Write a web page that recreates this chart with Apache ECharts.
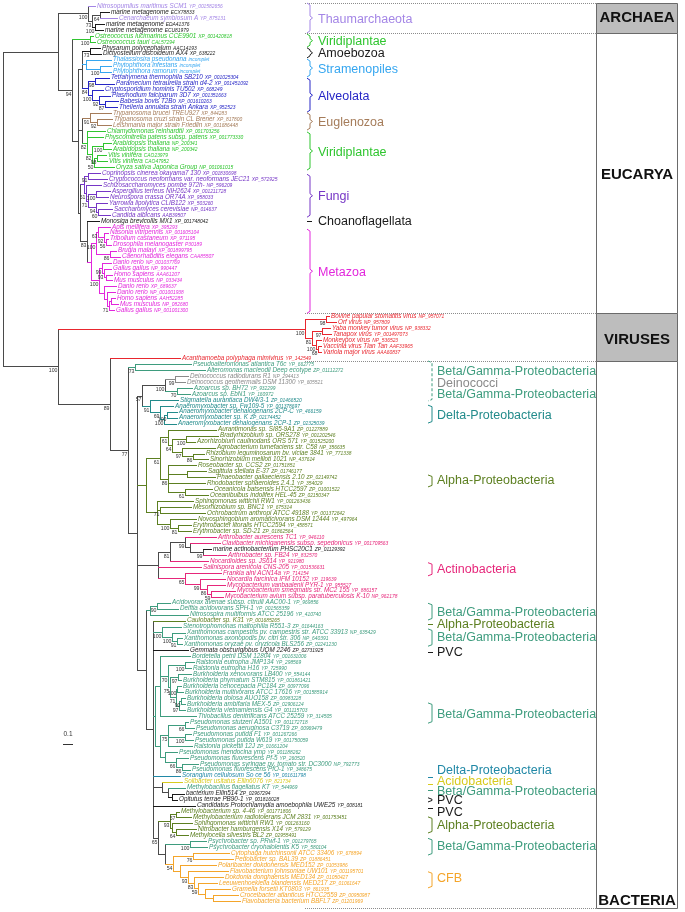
<!DOCTYPE html>
<html><head><meta charset="utf-8">
<script src="https://cdn.jsdelivr.net/npm/echarts@6/dist/echarts.min.js"></script>
<style>html,body{margin:0;padding:0;background:#fff}#c{width:685px;height:912px}</style>
</head><body><div id="c"></div>
<script>
// ---------------- DATA ----------------
const leafNames = [
'Nitrosopumilus maritimus SCM1','marine metagenome','Cenarchaeum symbiosum A','marine metagenome','marine metagenome',
'Ostreococcus lucimarinus CCE9901','Ostreococcus tauri',
'Physarum polycephalum','Dictyostelium discoideum AX4',
'Thalassiosira pseudonana','Phytophthora infestans','Phytophthora ramorum',
'Tetrahymena thermophila SB210','Paramecium tetraurelia strain d4-2','Cryptosporidium hominis TU502','Plasmodium falciparum 3D7','Babesia bovis T2Bo','Theileria annulata strain Ankara',
'Trypanosoma brucei TREU927','Trypanosoma cruzi strain CL Brener','Leishmania major strain Friedlin',
'Chlamydomonas reinhardtii','Physcomitrella patens subsp. patens','Arabidopsis thaliana','Arabidopsis thaliana','Vitis vinifera','Vitis vinifera','Oryza sativa Japonica Group',
'Coprinopsis cinerea okayama7 130','Cryptococcus neoformans var. neoformans JEC21','Schizosaccharomyces pombe 972h-','Aspergillus terreus NIH2624','Neurospora crassa OR74A','Yarrowia lipolytica CLIB122','Saccharomyces cerevisiae','Candida albicans',
'Monosiga brevicollis MX1',
'Apis mellifera','Nasonia vitripennis','Tribolium castaneum','Drosophila melanogaster','Brugia malayi','Caenorhabditis elegans','Danio rerio','Gallus gallus','Homo sapiens','Mus musculus','Danio rerio','Danio rerio','Homo sapiens','Mus musculus','Gallus gallus',
'Bovine papular stomatitis virus','Orf virus','Yaba monkey tumor virus','Tanapox virus','Monkeypox virus','Vaccinia virus Tian Tan','Variola major virus','Acanthamoeba polyphaga mimivirus',
'Pseudoalteromonas atlantica T6c','Alteromonas macleodii Deep ecotype','Deinococcus radiodurans R1','Deinococcus geothermalis DSM 11300','Azoarcus sp. BH72','Azoarcus sp. EbN1',
'Stigmatella aurantiaca DW4/3-1','Anaeromyxobacter sp. Fw109-5','Anaeromyxobacter dehalogenans 2CP-C','Anaeromyxobacter sp. K','Anaeromyxobacter dehalogenans 2CP-1',
'Aurantimonas sp. SI85-9A1','Bradyrhizobium sp. ORS278','Azorhizobium caulinodans ORS 571','Agrobacterium tumefaciens str. C58','Rhizobium leguminosarum bv. viciae 3841','Sinorhizobium meliloti 1021','Roseobacter sp. CCS2','Sagittula stellata E-37','Phaeobacter gallaeciensis 2.10','Rhodobacter sphaeroides 2.4.1','Oceanicola batsensis HTCC2597','Oceanibulbus indolifex HEL-45','Sphingomonas wittichii RW1','Mesorhizobium sp. BNC1','Ochrobactrum anthropi ATCC 49188','Novosphingobium aromaticivorans DSM 12444','Erythrobacter litoralis HTCC2594','Erythrobacter sp. SD-21',
'Arthrobacter aurescens TC1','Clavibacter michiganensis subsp. sepedonicus','marine actinobacterium PHSC20C1','Arthrobacter sp. FB24','Nocardioides sp. JS614','Salinispora arenicola CNS-205','Frankia alni ACN14a','Nocardia farcinica IFM 10152','Mycobacterium vanbaalenii PYR-1','Mycobacterium smegmatis str. MC2 155','Mycobacterium avium subsp. paratuberculosis K-10',
'Acidovorax avenae subsp. citrulli AAC00-1','Delftia acidovorans SPH-1','Nitrosospira multiformis ATCC 25196','Caulobacter sp. K31','Stenotrophomonas maltophilia R551-3','Xanthomonas campestris pv. campestris str. ATCC 33913','Xanthomonas axonopodis pv. citri str. 306','Xanthomonas oryzae pv. oryzicola BLS256','Gemmata obscuriglobus UQM 2246',
'Bordetella petrii DSM 12804','Ralstonia eutropha JMP134','Ralstonia eutropha H16','Burkholderia xenovorans LB400','Burkholderia phymatum STM815','Burkholderia cenocepacia PC184','Burkholderia multivorans ATCC 17616','Burkholderia dolosa AUO158','Burkholderia ambifaria MEX-5','Burkholderia vietnamiensis G4','Thiobacillus denitrificans ATCC 25259',
'Pseudomonas stutzeri A1501','Pseudomonas aeruginosa C3719','Pseudomonas putida F1','Pseudomonas putida W619','Ralstonia pickettii 12J','Pseudomonas mendocina ymp','Pseudomonas fluorescens Pf-5','Pseudomonas syringae pv. tomato str. DC3000','Pseudomonas fluorescens PfO-1',
'Sorangium cellulosum So ce 56','Solibacter usitatus Ellin6076','Methylobacillus flagellatus KT','bacterium Ellin514','Opitutus terrae PB90-1','Candidatus Protochlamydia amoebophila UWE25',
'Methylobacterium sp. 4-46','Methylobacterium radiotolerans JCM 2831','Sphingomonas wittichii RW1','Nitrobacter hamburgensis X14','Methylocella silvestris BL2',
'Psychrobacter sp. PRwf-1','Psychrobacter cryohalolentis K5',
'Cytophaga hutchinsonii ATCC 33406','Pedobacter sp. BAL39','Polaribacter dokdonensis MED152','Flavobacterium johnsoniae UW101','Dokdonia donghaensis MED134','Leeuwenhoekiella blandensis MED217','Gramella forsetii KT0803','Croceibacter atlanticus HTCC2559','Flavobacteria bacterium BBFL7'
];
const leafAcc = [
'YP_001582656','ECX78833','YP_875131','EDA41376','ECU81979',
'XP_001420818','CAL57294',
'AAC14193','XP_638222',
'incomplet','incomplet','incomplet',
'XP_001025304','XP_001451092','XP_668249','XP_001351663','XP_001610263','XP_952523',
'XP_844283','XP_817800','XP_001686448',
'XP_001703256','XP_001773330','NP_200341','NP_200342','CAO23979','CAO47952','NP_001061015',
'XP_001830698','XP_572925','NP_596209','XP_001211728','XP_958033','XP_503260','NP_014637','AAB39507',
'XP_001748042',
'XP_395293','XP_001605104','XP_971195','P30189','XP_001899795','CAA85507','NP_001037769','NP_990447','AAA61207','NP_033434','XP_689637','NP_001001938','AAH52285','NP_082680','NP_001001300',
'NP_957071','NP_957809','NP_938332','YP_001497073','NP_536523','AAF33965','AAA60837','YP_142549',
'YP_662775','ZP_01112272','NP_294413','YP_605521','YP_932299','YP_160972',
'ZP_01466520','YP_001378697','YP_466159','ZP_02174452','ZP_02325039',
'ZP_01227889','YP_001202546','YP_001525200','NP_356635','YP_771338','NP_437614','ZP_01751851','ZP_01746177','ZP_02149742','YP_354029','ZP_01001522','ZP_02150347','YP_001263436','YP_675314','YP_001372642','YP_497964','YP_458571','ZP_01862564',
'YP_946110','YP_001709563','ZP_01129392','YP_832570','YP_921980','YP_001536631','YP_714154','YP_119639','YP_955527','YP_886157','NP_962178',
'YP_969856','YP_001565359','YP_410740','YP_001685265','ZP_01644163','NP_635429','NP_640391','ZP_02241230','ZP_02731925',
'YP_001631006','YP_298569','YP_725990','YP_554144','YP_001861421','ZP_00977096','YP_001585914','ZP_00983228','ZP_02906124','YP_001115703','YP_314505',
'YP_001172718','ZP_00969479','YP_001267266','YP_001750059','ZP_01661204','YP_001188262','YP_260520','NP_792773','YP_348675',
'YP_001611798','YP_821734','YP_544969','ZP_02967294','YP_001816028','YP_008181',
'YP_001771806','YP_001753451','YP_001263160','YP_579129','ZP_02955491',
'YP_001279765','YP_580104',
'YP_678894','ZP_01886451','ZP_01053986','YP_001195701','ZP_01050427','ZP_01061647','YP_861935','ZP_00950987','ZP_01201969'
];
const leafGroup = [
'thaum','black','thaum','black','black',
'plant','plant',
'black','black',
'stram','stram','stram',
'alv','alv','alv','alv','alv','alv',
'eugl','eugl','eugl',
'plant','plant','plant','plant','plant','plant','plant',
'fungi','fungi','fungi','fungi','fungi','fungi','fungi','fungi',
'black',
'meta','meta','meta','meta','meta','meta','meta','meta','meta','meta','meta','meta','meta','meta','meta',
'virus','virus','virus','virus','virus','virus','virus','virus',
'bg','bg','deino','deino','bg','bg',
'delta','delta','delta','delta','delta',
'alpha','alpha','alpha','alpha','alpha','alpha','alpha','alpha','alpha','alpha','alpha','alpha','alpha','alpha','alpha','alpha','alpha','alpha',
'actino','actino','black','actino','actino','actino','actino','actino','actino','actino','actino',
'bg','bg','bg','alpha','bg','bg','bg','bg','black',
'bg','bg','bg','bg','bg','bg','bg','bg','bg','bg','bg',
'bg','bg','bg','bg','bg','bg','bg','bg','bg',
'delta2','acido','bg','black','black','black',
'alpha','alpha','alpha','alpha','alpha',
'bg','bg',
'cfb','cfb','cfb','cfb','cfb','cfb','cfb','cfb','cfb'
];

// Tree (Newick, leaves = index into the arrays above, branch lengths, bootstrap support)
const nwArchaea = "(0:0.07,((1:0.09,2:0.17)64:0.08,(3:0.09,4:0.08)100:0.03)73:0.04)100:0.30";
const nwEukG1 = "((7:0.10,8:0.11)73:0.08,(9:0.25,(10:0.11,11:0.11)100:0.14):0.04,((12:0.14,13:0.19)98:0.07,(14:0.11,(15:0.11,(16:0.13,17:0.12)87:0.06)92:0.07)100:0.04)84:0.06):0.04";
const nwEukG2 = "((18:0.21,(19:0.15,20:0.14)92:0.07)91:0.08,(21:0.18,22:0.16,((23:0.08,24:0.08)100:0.11,((25:0.09,26:0.10)98:0.03,27:0.20)50:0.02)82:0.05)82:0.05):0.04";
const nwMetazoa = "(((37:0.12,(38:0.04,(39:0.02,40:0.05)56:0.02)92:0.06)63:0.02,(41:0.06,42:0.10)86:0.14)100:0.05,((43:0.09,(44:0.07,(45:0.06,46:0.06):0.02)93:0.02)99:0.03,(47:0.12,(48:0.08,((49:0.04,50:0.07):0.02,51:0.05)71:0.02):0.03):0.05)100:0.08):0.04";
const nwOpis = "(((28:0.12,29:0.19)91:0.04,(30:0.15,((31:0.14,32:0.12)100:0.08,(33:0.11,(34:0.14,35:0.12)60:0.02)94:0.08)71:0.02)51:0.02):0.04,(36:0.12," + nwMetazoa + ")83:0.07):0.02";
const nwEukarya = "((5:0.03,6:0.05)100:0.18,(" + nwEukG1 + "," + nwEukG2 + "," + nwOpis + "):0.06)94:0.14";
const nwViruses = "((52:0.03,53:0.10)98:0.21,((54:0.08,55:0.09)97:0.10,(56:0.05,(57:0.03,58:0.03)68:0.02)100:0.04)81:0.07)100:2.47";
const nwDelta = "(((62:0.13,63:0.10)99:0.10,(64:0.15,65:0.13)70:0.12)100:0.23,(66:0.28,(67:0.13,((68:0.10,69:0.10)100:0.03,70:0.12)100:0.04)69:0.10)91:0.08)57:0.05";
const nwAlpha = "(((71:0.48,((72:0.32,73:0.09)100:0.14,(74:0.33,(75:0.11,76:0.15)86:0.11)97:0.10)64:0.04)61:0.08,(77:0.28,(78:0.19,79:0.28):0.19,80:0.37,(81:0.27,82:0.23)61:0.17)86:0.08)61:0.14,(83:0.36,(84:0.31,85:0.45)71:0.03,(86:0.26,(87:0.13,88:0.13)81:0.08)100:0.13):0.11):0.09";
const nwActino = "(((89:0.31,(90:0.30,(91:0.08,92:0.23)99:0.13):0.05)99:0.15,93:0.38)81:0.12,94:0.43,(95:0.36,(96:0.25,(97:0.18,(98:0.24,99:0.12)59:0.04)86:0.07)99:0.15)65:0.27):0.21";
const nwXantho = "(104:0.19,(105:0.13,(106:0.05,107:0.05)91:0.05)100:0.10)100:0.09";
const nwPseudo = "(((120:0.03,121:0.09)66:0.17,(122:0.06,123:0.08)100:0.17,124:0.24)75:0.08,(125:0.12,(126:0.12,(127:0.16,128:0.08)86:0.06)66:0.11):0.05):0.05";
const nwBurk = "((109:0.30,((110:0.09,111:0.06)100:0.17,((112:0.13,113:0.03)97:0.08,((114:0.04,115:0.06)100:0.01,((116:0.04,117:0.04)90:0.02,118:0.06)97:0.03)71:0.06)75:0.02)70:0.08,119:0.36):0.05," + nwPseudo + "):0.02";
const nwOther = "(130:0.20,(131:0.17,(132:0.12,133:0.05):0.04):0.06):0.09";
const nwLow = "(((135:0.03,136:0.15)57:0.06,(137:0.20,(138:0.20,139:0.12)64:0.04):0.02)93:0.12,((140:0.16,141:0.17)100:0.25,((142:0.36,143:0.40)76:0.20,(144:0.36,(145:0.40,(146:0.29,(147:0.19,(148:0.25,(149:0.25,150:0.27):0.08):0.07)59:0.04)83:0.06)93:0.08):0.07)54:0.08):0.07)65:0.05";
const nwRest = "(((100:0.13,101:0.21)90:0.07,102:0.38):0.04,(103:0.32," + nwXantho + ",108:0.35," + nwBurk + ",129:0.27," + nwOther + ",134:0.42," + nwLow + "):0.07):0.09";
const nwBacteria = "((60:0.56,61:0.70)73:0.07,(" + nwDelta + "," + nwAlpha + "," + nwActino + "," + nwRest + "):0.09)77:0.18";
const treeNewick = "((" + nwArchaea + "," + nwEukarya + "):0.55,(" + nwViruses + ",(59:0.70," + nwBacteria + ")89:0.52)100:0.55);";

// Clade annotations: [text, colour key, label row, brace from row, brace to row, column]
const groupLabels = [
 ['Thaumarchaeota','thaum',2.35,-0.5,4.5,0],
 ['Viridiplantae','plant',5.9,4.7,6.9,0],
 ['Amoebozoa','black',7.9,7.0,8.7,0],
 ['Stramenopiles','stram',10.6,8.9,11.9,0],
 ['Alveolata','alv',15.1,12.1,17.8,0],
 ['Euglenozoa','eugl',19.6,17.9,20.8,0],
 ['Viridiplantae','plant',24.5,21.1,27.5,0],
 ['Fungi','fungi',32.0,28.2,35.4,0],
 ['Choanoflagellata','black',36.1,36.0,36.0,0],
 ['Metazoa','meta',44.6,37.4,51.5,0],
 ['Beta/Gamma-Proteobacteria','bg',61.2,59.5,66.2,1],
 ['Deinococci','deino',63.2,null,null,1],
 ['Beta/Gamma-Proteobacteria','bg',65.2,null,null,1],
 ['Delta-Proteobacteria','delta',68.7,66.9,69.9,1],
 ['Alpha-Proteobacteria','alpha',79.6,78.6,80.6,1],
 ['Actinobacteria','actino',94.4,93.3,95.5,1],
 ['Beta/Gamma-Proteobacteria','bg',101.7,100.1,102.9,1],
 ['Alpha-Proteobacteria','alpha',103.6,103.5,103.5,1],
 ['Beta/Gamma-Proteobacteria','bg',105.9,104.4,107.3,1],
 ['PVC','black',108.4,108.3,108.3,1],
 ['Beta/Gamma-Proteobacteria','bg',118.8,116.8,120.2,1],
 ['Delta-Proteobacteria','delta2',128.2,129.2,129.2,1],
 ['Acidobacteria','acido',129.9,130.4,130.4,1],
 ['Beta/Gamma-Proteobacteria','bg',131.7,131.4,131.4,1],
 ['PVC','black',133.2,132.7,133.4,1],
 ['PVC','black',135.1,134.4,134.4,1],
 ['Alpha-Proteobacteria','alpha',137.3,135.9,138.6,1],
 ['Beta/Gamma-Proteobacteria','bg',140.8,139.5,142.3,1],
 ['CFB','cfb',146.3,145.1,147.8,1]
];
const domainNames = ['ARCHAEA','EUCARYA','VIRUSES','BACTERIA'];
const domainRows = [[-0.5,4.5],[4.5,51.5],[51.5,59.5],[59.5,151.2]];
const domainShaded = [true,false,true,false];
const domainTextRow = [2.0,28.3,56.0,150.0];
const scaleBarLength = 0.1;
const scaleBarLabel = '0.1';

// ---------------- STYLE ----------------
const groupColors = {
 thaum:'#a486e6', black:'#1a1a1a', plant:'#2fc52f', stram:'#35a6f0', alv:'#2626c6',
 eugl:'#a57c5a', fungi:'#7636c6', meta:'#e226dc', virus:'#e8262e', bg:'#3e9c7e',
 deino:'#8a8a8a', delta:'#228b8b', alpha:'#5c7f20', actino:'#e6267a', acido:'#d8cb1e',
 delta2:'#2088a6', cfb:'#f4a52a'
};
const INTERNAL = '#4a4a4a';
const FONT = '"Liberation Sans", Arial, Helvetica, sans-serif';
const BOX_L = 5.93, BOX_R = 6.74, DOT_L = 3.02;
const BRACE_X = [3.04, 4.25], LABEL_X = [3.15, 4.34];

// ---------------- TREE LAYOUT ----------------
function parseNewick(str) {
  const s = str.replace(/\s+/g, '');
  let i = 0;
  function node() {
    const n = {children: [], len: 0, support: ''};
    if (s[i] === '(') {
      i++;
      n.children.push(node());
      while (s[i] === ',') { i++; n.children.push(node()); }
      i++;
    }
    let name = '';
    while (i < s.length && ',():;'.indexOf(s[i]) < 0) name += s[i++];
    if (s[i] === ':') {
      i++; let l = '';
      while (i < s.length && ',();'.indexOf(s[i]) < 0) l += s[i++];
      n.len = parseFloat(l);
    }
    if (n.children.length) n.support = name; else n.leaf = parseInt(name, 10);
    return n;
  }
  return node();
}
const root = parseNewick(treeNewick);
const tipX = new Array(leafNames.length).fill(0);
function layout(n, px) {
  n.x = px + n.len;
  if (!n.children.length) { n.y = n.leaf; n.grp = leafGroup[n.leaf]; tipX[n.leaf] = n.x; return; }
  n.children.forEach(c => layout(c, n.x));
  const a = n.children[0], b = n.children[n.children.length - 1];
  n.y = (a.y + b.y) / 2;
  n.grp = n.children.every(c => c.grp === a.grp) ? a.grp : null;
}
layout(root, 0);
const segs = [], segColors = [], supports = [];
function collect(n, parent) {
  const col = n.grp ? groupColors[n.grp] : INTERNAL;
  if (parent) { segs.push([parent.x, n.y, n.x, n.y]); segColors.push(col); }
  if (n.children.length) {
    segs.push([n.x, n.children[0].y, n.x, n.children[n.children.length - 1].y]); segColors.push(col);
    if (n.support) supports.push([n.x, n.y, n.support]);
    n.children.forEach(c => collect(c, n));
  }
}
collect(root, null);

const mctx = document.createElement('canvas').getContext('2d');
function textW(t, font) { mctx.font = font; return mctx.measureText(t).width; }
const r5 = v => Math.round(v) + 0.5;
function txt(x, y, text, font, fill, align, valign) {
  return {type: 'text', x: x, y: y, style: {text: text, font: font, fill: fill,
    textAlign: align, textVerticalAlign: valign, align: align, verticalAlign: valign}};
}

// decorations list
const decor = [];
domainNames.forEach((d, i) => decor.push({kind: 'box', i: i}));
[-0.5, 4.5, 51.5, 59.5, 151.2].forEach(v => decor.push({kind: 'dots', v: v}));
groupLabels.forEach((g, i) => decor.push({kind: 'glabel', i: i}));
decor.push({kind: 'scale'});

const chart = echarts.init(document.getElementById('c'), null, {renderer: 'canvas', width: 685, height: 912});
chart.setOption({
  animation: false,
  backgroundColor: '#ffffff',
  grid: {left: 0, right: 0, top: 6, bottom: 11},
  xAxis: {type: 'value', min: -0.03, max: 6.82, show: false},
  yAxis: {type: 'value', inverse: true, min: 0, max: 150, show: false},
  series: [
    { // decorations (domain boxes, separators, braces, clade names, scale bar)
      type: 'custom', clip: false, silent: true, z: 1,
      data: decor.map(() => [0, 0]),
      renderItem: (params, api) => {
        const d = decor[params.dataIndex];
        const cx = v => api.coord([v, 0])[0];
        const cy = v => api.coord([0, v])[1];
        if (d.kind === 'box') {
          const b = domainRows[d.i];
          const x1 = r5(cx(BOX_L)), x2 = r5(cx(BOX_R)), y1 = r5(cy(b[0])), y2 = r5(cy(b[1]));
          return {type: 'group', children: [
            {type: 'rect', shape: {x: x1, y: y1, width: x2 - x1, height: y2 - y1},
             style: {fill: domainShaded[d.i] ? '#bdbdbd' : '#ffffff', stroke: '#6a6a6a', lineWidth: 1}},
            txt((x1 + x2) / 2, cy(domainTextRow[d.i]), domainNames[d.i], 'bold 15px ' + FONT, '#111', 'center', 'middle')
          ]};
        }
        if (d.kind === 'dots') {
          const y = r5(cy(d.v));
          return {type: 'line', shape: {x1: cx(DOT_L), y1: y, x2: cx(BOX_L), y2: y},
                  style: {stroke: '#8c8c8c', lineWidth: 1, lineDash: [1, 1]}};
        }
        if (d.kind === 'glabel') {
          const g = groupLabels[d.i];
          const col = groupColors[g[1]];
          const children = [txt(cx(LABEL_X[g[5]]), cy(g[2]), g[0], '12.5px ' + FONT, col, 'left', 'middle')];
          if (g[3] !== null) {
            const bx = cx(BRACE_X[g[5]]);
            const y1 = cy(g[3]), y2 = cy(g[4]);
            if (y2 - y1 < 1) {
              children.push({type: 'line', shape: {x1: bx, y1: r5(y1), x2: bx + 5, y2: r5(y1)}, style: {stroke: col, lineWidth: 1}});
            } else if (g[5] === 0) {
              const ym = (y1 + y2) / 2;
              children.push({type: 'polyline', shape: {points: [[bx, y1], [bx + 3, y1 + 2], [bx + 3, ym - 2], [bx + 5.5, ym], [bx + 3, ym + 2], [bx + 3, y2 - 2], [bx, y2]]},
                             style: {stroke: col, fill: null, lineWidth: 1}});
            } else {
              const dashed = (g[4] - g[3]) > 5;
              children.push({type: 'polyline', shape: {points: [[bx, y1], [bx + 4, y1 + 1.5], [bx + 4, y2 - 1.5], [bx, y2]]},
                             style: {stroke: col, fill: null, lineWidth: 1, lineDash: dashed ? [3, 2] : null}});
            }
          }
          return {type: 'group', children: children};
        }
        // scale bar
        const y = r5(cy(123.7));
        return {type: 'group', children: [
          {type: 'line', shape: {x1: cx(0.60), y1: y, x2: cx(0.60 + scaleBarLength), y2: y}, style: {stroke: '#333', lineWidth: 1}},
          txt(cx(0.60 + scaleBarLength / 2), cy(122.0), scaleBarLabel, '6.5px ' + FONT, '#333', 'center', 'middle')
        ]};
      }
    },
    { // tree branches
      type: 'custom', clip: false, silent: true, z: 2,
      data: segs,
      renderItem: (params, api) => {
        const p1 = api.coord([api.value(0), api.value(1)]);
        const p2 = api.coord([api.value(2), api.value(3)]);
        return {type: 'line', shape: {x1: r5(p1[0]), y1: r5(p1[1]), x2: r5(p2[0]), y2: r5(p2[1])},
                style: {stroke: segColors[params.dataIndex], lineWidth: 1, lineCap: 'square'}};
      }
    },
    { // leaf names + accessions
      type: 'custom', clip: false, silent: true, z: 3,
      data: tipX.map((x, i) => [x, i]),
      renderItem: (params, api) => {
        const i = params.dataIndex;
        const p = api.coord([api.value(0), api.value(1)]);
        const col = groupColors[leafGroup[i]];
        const nf = 'italic 6.3px ' + FONT, af = 'italic 4.9px ' + FONT;
        const w = textW(leafNames[i], nf);
        return {type: 'group', children: [
          txt(p[0] + 2, p[1], leafNames[i], nf, col, 'left', 'middle'),
          txt(p[0] + 2 + w + 2, p[1] + 0.4, leafAcc[i], af, col, 'left', 'middle')
        ]};
      }
    },
    { // bootstrap values
      type: 'custom', clip: false, silent: true, z: 3,
      data: supports.map(s => [s[0], s[1]]),
      renderItem: (params, api) => {
        const p = api.coord([api.value(0), api.value(1)]);
        return txt(p[0] - 0.5, p[1] + 2, supports[params.dataIndex][2], '5.2px ' + FONT, '#333', 'right', 'top');
      }
    }
  ]
});
</script>
</body></html>
